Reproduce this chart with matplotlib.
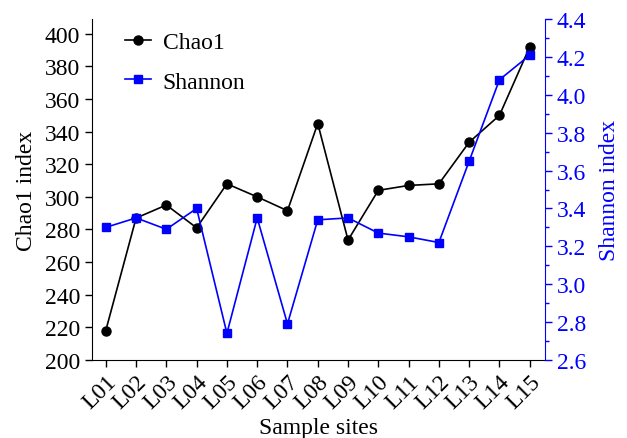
import numpy as np
import matplotlib
matplotlib.use("Agg")
import matplotlib.pyplot as plt
from matplotlib.ticker import MultipleLocator

plt.rcParams["font.family"] = ["Liberation Serif", "DejaVu Serif"]

sites = ["L01", "L02", "L03", "L04", "L05", "L06", "L07", "L08",
         "L09", "L10", "L11", "L12", "L13", "L14", "L15"]
chao1 = [218, 287, 295, 281, 308, 300, 291.5, 345, 273.5, 304, 307, 308, 333.5, 350, 392]
shannon = [3.30, 3.35, 3.29, 3.40, 2.74, 3.35, 2.79, 3.34, 3.35, 3.27, 3.25, 3.22, 3.65, 4.08, 4.21]

blue = "#0000ff"
x = np.arange(len(sites))

fig = plt.figure(figsize=(6.27, 4.39), dpi=100)
ax = fig.add_axes([0.147, 0.178, 0.722, 0.776])
ax2 = ax.twinx()

l1, = ax.plot(x, chao1, color="black", marker="o", markersize=6.5, lw=1.2, label="Chao1")
l2, = ax2.plot(x, shannon, color=blue, marker="s", markersize=6, lw=1.2, label="Shannon")

ax.set_xlim(-0.45, 14.5)
ax.set_ylim(200, 409)
ax.yaxis.set_major_locator(MultipleLocator(20))
ax2.set_ylim(2.6, 4.4)
ax2.yaxis.set_major_locator(MultipleLocator(0.2))
ax2.yaxis.set_minor_locator(MultipleLocator(0.1))
ax2.yaxis.set_major_formatter(plt.FormatStrFormatter("%.1f"))

ax.set_xticks(x)
ax.set_xticklabels(sites, rotation=45, ha="right", rotation_mode="anchor")

for a in (ax, ax2):
    a.spines["top"].set_visible(False)
ax2.spines["left"].set_visible(False)
ax2.spines["bottom"].set_visible(False)
ax.spines["right"].set_visible(False)
ax2.spines["right"].set_color(blue)

ax.tick_params(axis="both", direction="out", labelsize=17, length=5, width=1)
ax.tick_params(axis="x", pad=3)
ax2.tick_params(axis="y", which="major", direction="out", labelsize=17, length=5,
                width=1, colors=blue, labelcolor=blue)
ax2.tick_params(axis="y", which="minor", direction="out", length=3, width=1, colors=blue)

ax.set_xlabel("Sample sites", fontsize=17, labelpad=3)
ax.set_ylabel("Chao1 index", fontsize=17, labelpad=6)
ax2.set_ylabel("Shannon index", fontsize=17, color=blue, labelpad=9)

ax.legend(handles=[l1, l2], loc="upper left", frameon=False, fontsize=17,
          bbox_to_anchor=(0.025, 1.025), handlelength=1.1, handletextpad=0.5,
          labelspacing=0.75)

fig.savefig("out.png", dpi=100)
